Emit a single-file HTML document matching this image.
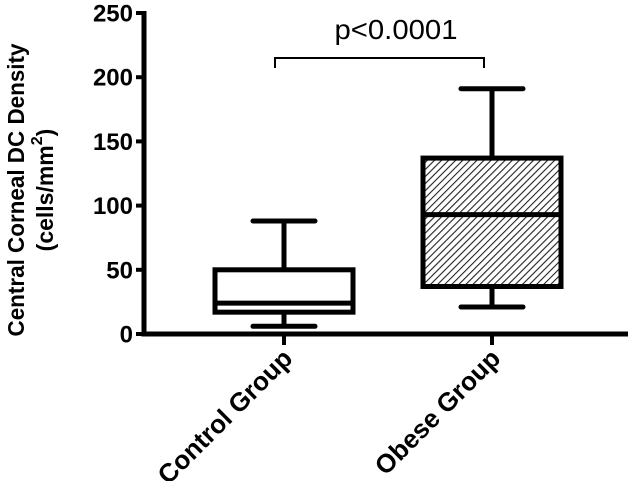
<!DOCTYPE html>
<html><head><meta charset="utf-8"><style>
html,body{margin:0;padding:0;background:#fff;}
svg{display:block;font-family:"Liberation Sans",Arial,sans-serif;}
</style></head><body>
<svg id="chart" width="630" height="481" viewBox="0 0 630 481">
<defs>
<pattern id="hatch" patternUnits="userSpaceOnUse" width="5" height="5" patternTransform="rotate(45)">
<rect width="5" height="5" fill="#fff"/>
<line x1="0" y1="0" x2="0" y2="5" stroke="#222" stroke-width="2.2"/>
</pattern>
</defs>
<g id="axes"></g>
<g id="boxes"></g>
<text x="18" y="190" transform="rotate(-90 18 190)" text-anchor="middle" dominant-baseline="middle" font-weight="bold" font-size="23" textLength="293" lengthAdjust="spacingAndGlyphs">Central Corneal DC Density</text>
<text x="47" y="190" transform="rotate(-90 47 190)" text-anchor="middle" dominant-baseline="middle" font-weight="bold" font-size="23">(cells/mm<tspan dy="-9" font-size="16">2</tspan><tspan dy="9">)</tspan></text>
<path d="M275,68 V58 H484 V68" fill="none" stroke="#000" stroke-width="2"/>
<text x="396" y="39" text-anchor="middle" font-size="28" textLength="123" lengthAdjust="spacingAndGlyphs">p&lt;0.0001</text>
</svg>
<script>
const categories = ["Control Group", "Obese Group"];
const mins = [6, 21];
const q1s = [17, 37];
const medians = [24, 93];
const q3s = [50, 137];
const maxs = [88, 191];
const yTicks = [0, 50, 100, 150, 200, 250];

const NS = "http://www.w3.org/2000/svg";
const y = v => 334 - v * 1.284;
const xCenter = i => 284 + i * 208;
function mk(tag, attrs, parent) {
  const e = document.createElementNS(NS, tag);
  for (const k in attrs) e.setAttribute(k, attrs[k]);
  parent.appendChild(e);
  return e;
}
const axes = document.getElementById("axes");
const boxes = document.getElementById("boxes");
let l = mk("line", {x1:144, y1:y(250)-2, x2:144, y2:336.5, stroke:"#000", "stroke-width":5}, axes);


l = mk("line", {x1:141.5, y1:334, x2:628, y2:334, stroke:"#000", "stroke-width":5}, axes);


yTicks.forEach(t => {
  const tk = mk("line", {x1:136, y1:y(t), x2:144, y2:y(t), stroke:"#000", "stroke-width":4}, axes);
  
  
  const tx = mk("text", {x:133, y:y(t)+8.5, "text-anchor":"end", "font-size":24, "font-weight":"bold"}, axes);
  tx.textContent = t;
  
  
});
categories.forEach((c, i) => {
  const cx = xCenter(i);
  const tk = mk("line", {x1:cx, y1:334, x2:cx, y2:345, stroke:"#000", "stroke-width":4}, axes);
  
  
  const ax = cx + 10, ay = 360;
  const tx = mk("text", {x:ax, y:ay, "text-anchor":"end", "font-size":26, "font-weight":"bold", transform:`rotate(-45 ${ax} ${ay})`}, axes);
  tx.textContent = c;
  
  
  const g = mk("g", {}, boxes);
  
  
  const sw = 5, hw = 69, cap = 31;
  mk("line", {x1:cx, y1:y(maxs[i]), x2:cx, y2:y(q3s[i]), stroke:"#000", "stroke-width":sw}, g);
  mk("line", {x1:cx, y1:y(q1s[i]), x2:cx, y2:y(mins[i]), stroke:"#000", "stroke-width":sw}, g);
  mk("line", {x1:cx-cap, y1:y(maxs[i]), x2:cx+cap, y2:y(maxs[i]), stroke:"#000", "stroke-width":sw, "stroke-linecap":"round"}, g);
  mk("line", {x1:cx-cap, y1:y(mins[i]), x2:cx+cap, y2:y(mins[i]), stroke:"#000", "stroke-width":sw, "stroke-linecap":"round"}, g);
  mk("rect", {x:cx-hw, y:y(q3s[i]), width:hw*2, height:y(q1s[i])-y(q3s[i]), fill:i===0?"#fff":"url(#hatch)", stroke:"#000", "stroke-width":sw}, g);
  mk("line", {x1:cx-hw, y1:y(medians[i]), x2:cx+hw, y2:y(medians[i]), stroke:"#000", "stroke-width":sw}, g);
});
</script>
</body></html>
